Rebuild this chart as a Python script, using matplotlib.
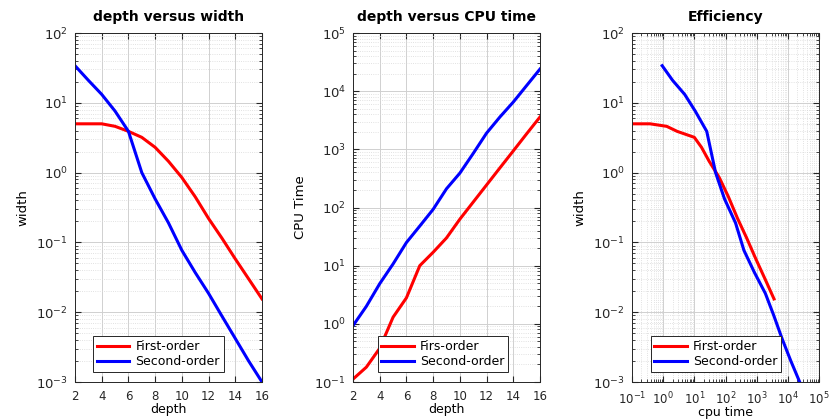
import matplotlib
matplotlib.use("Agg")
import matplotlib.pyplot as plt
import numpy as np
from matplotlib.ticker import LogLocator, NullFormatter

plt.rcParams['font.family'] = ['DejaVu Sans']
plt.rcParams['mathtext.fontset'] = 'dejavusans'

depth = [2, 3, 4, 5, 6, 7, 8, 9, 10, 11, 12, 13, 14, 15, 16]
width_first = [5.0, 5.0, 5.0, 4.6, 3.9, 3.2, 2.3, 1.45, 0.85, 0.45, 0.22, 0.115, 0.058, 0.030, 0.0155]
width_second = [34, 21, 13.2, 7.6, 3.9, 1.0, 0.42, 0.19, 0.077, 0.037, 0.0186, 0.0088, 0.0042, 0.002, 0.001]
cpu_first = [0.112, 0.18, 0.38, 1.3, 2.8, 10, 17, 30, 63, 124, 244, 480, 940, 1850, 3600]
cpu_second = [0.93, 2.0, 4.9, 10.7, 25, 48, 93, 210, 390, 850, 1900, 3600, 6500, 12500, 24000]

titles = ["depth versus width", "depth versus CPU time", "Efficiency"]
xlabels = ["depth", "depth", "cpu time"]
ylabels = ["width", "CPU Time", "width"]
legend_names = [["First-order", "Second-order"], ["Firs-order", "Second-order"], ["First-order", "Second-order"]]

fig = plt.figure(figsize=(8.32, 4.19), dpi=100)
W, H = 832, 419
lefts = [75, 353, 632]
top, bottom = 33, 382
axw = 187
leg_x = [0.096, 0.132, 0.10]

red = '#ff0000'
blue = '#0000ff'
axcol = '#262626'

for i in range(3):
    ax = fig.add_axes([lefts[i] / W, 1 - bottom / H, axw / W, (bottom - top) / H])
    if i == 0:
        ax.plot(depth, width_first, color=red, lw=2.2, label=legend_names[i][0])
        ax.plot(depth, width_second, color=blue, lw=2.2, label=legend_names[i][1])
        ax.set_yscale('log')
        ax.set_xlim(2, 16)
        ax.set_ylim(1e-3, 1e2)
        ax.set_xticks(range(2, 17, 2))
    elif i == 1:
        ax.plot(depth, cpu_first, color=red, lw=2.2, label=legend_names[i][0])
        ax.plot(depth, cpu_second, color=blue, lw=2.2, label=legend_names[i][1])
        ax.set_yscale('log')
        ax.set_xlim(2, 16)
        ax.set_ylim(1e-1, 1e5)
        ax.set_xticks(range(2, 17, 2))
    else:
        ax.plot(cpu_first, width_first, color=red, lw=2.2, label=legend_names[i][0])
        ax.plot(cpu_second, width_second, color=blue, lw=2.2, label=legend_names[i][1])
        ax.set_xscale('log')
        ax.set_yscale('log')
        ax.set_xlim(1e-1, 1e5)
        ax.set_ylim(1e-3, 1e2)
        ax.xaxis.set_major_locator(LogLocator(base=10, numticks=20))
        ax.xaxis.set_minor_locator(LogLocator(base=10, subs=np.arange(2, 10), numticks=20))
        ax.xaxis.set_minor_formatter(NullFormatter())
    ax.yaxis.set_major_locator(LogLocator(base=10, numticks=20))
    ax.yaxis.set_minor_locator(LogLocator(base=10, subs=np.arange(2, 10), numticks=20))
    ax.yaxis.set_minor_formatter(NullFormatter())

    ax.grid(True, which='major', color='#d0d0d0', lw=0.7, ls='-')
    ax.grid(True, which='minor', axis='y', color='#d8d8d8', lw=0.6, ls=':')
    if i == 2:
        ax.grid(True, which='minor', axis='x', color='#d8d8d8', lw=0.6, ls=':')
    ax.set_axisbelow(True)

    ax.tick_params(which='both', direction='in', top=True, right=True, colors=axcol,
                   labelcolor='#262626', labelsize=9.5)
    ax.tick_params(axis='x', labelsize=8.5)
    ax.tick_params(which='major', length=4)
    ax.tick_params(which='minor', length=2)
    ax.tick_params(axis='x', which='major', pad=6)
    ax.tick_params(axis='y', which='major', pad=5)
    for s in ax.spines.values():
        s.set_color(axcol)
        s.set_linewidth(0.7)

    ax.set_title(titles[i], fontsize=10, fontweight='bold', pad=9)
    ax.set_xlabel(xlabels[i], fontsize=9, labelpad=-0.5)
    ax.set_ylabel(ylabels[i], fontsize=9.5, labelpad=5,
                  family=['Liberation Sans Narrow', 'DejaVu Sans'])

    leg = ax.legend(loc='lower left', bbox_to_anchor=(leg_x[i], 0.028), borderaxespad=0,
                    fancybox=False, edgecolor=axcol, framealpha=1, fontsize=9,
                    handlelength=2.6, borderpad=0.3, labelspacing=0.2, handletextpad=0.5)
    leg.get_frame().set_linewidth(0.7)

fig.savefig('out.png', dpi=100)
